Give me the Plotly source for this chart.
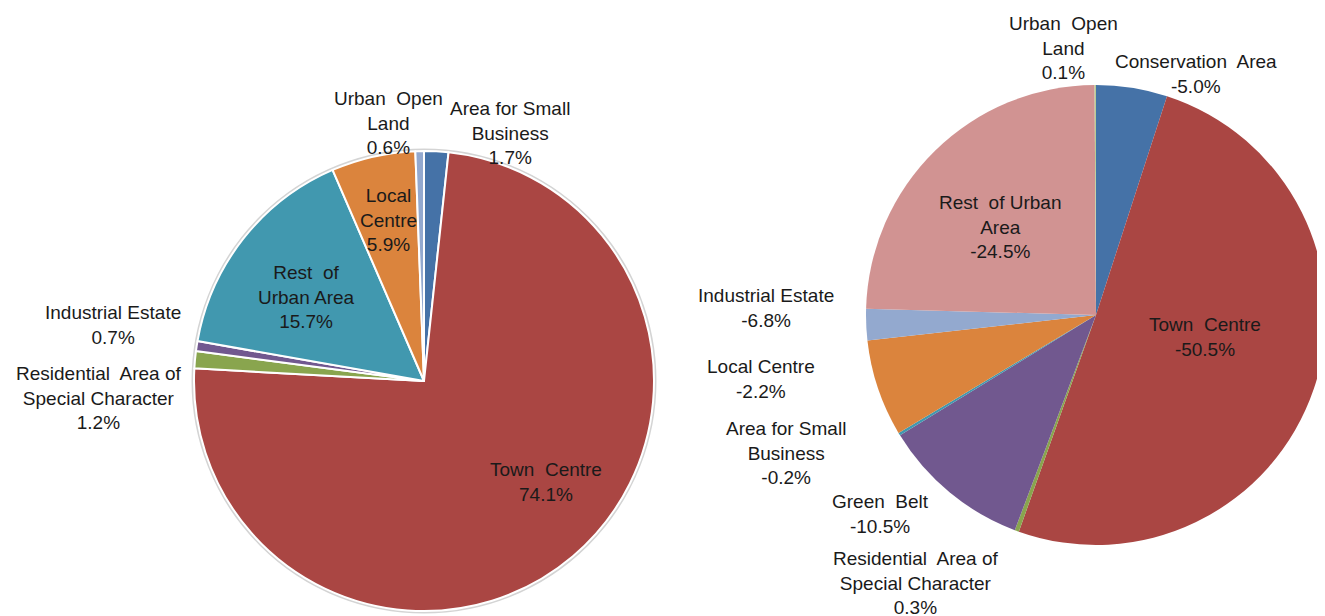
import plotly.graph_objects as go

# Left pie: share of total by policy area
left_categories = ["Area for Small Business", "Town Centre", "Residential Area of Special Character",
                   "Industrial Estate", "Rest of Urban Area", "Local Centre", "Urban Open Land"]
left_values = [1.7, 74.1, 1.2, 0.7, 15.7, 5.9, 0.6]
left_colors = ["#4572A7", "#AA4643", "#89A54E", "#71588F", "#4198AF", "#DB843D", "#93A9CF"]

# Right pie: change by policy area
right_categories = ["Conservation Area", "Town Centre", "Residential Area of Special Character",
                    "Green Belt", "Area for Small Business", "Industrial Estate", "Local Centre",
                    "Rest of Urban Area", "Urban Open Land"]
right_values = [-5.0, -50.5, 0.3, -10.5, -0.2, -6.8, -2.2, -24.5, 0.1]
right_colors = ["#4572A7", "#AA4643", "#89A54E", "#71588F", "#4198AF", "#DB843D", "#93A9CF",
                "#D19392", "#B9CD96"]

W, H = 1325, 616
OFF = 8  # page body margin, positions below are in screenshot pixels
FONT = "Liberation Sans, Arial, sans-serif"

# how each label wraps, and where it sits (pixel centre of the text block)
left_wrap = {
    "Area for Small Business": ("Area for Small<br>Business", 510, 133),
    "Town Centre": ("Town  Centre", 546, 482),
    "Residential Area of Special Character": ("Residential  Area of<br>Special Character", 98, 398),
    "Industrial Estate": ("Industrial Estate", 113, 325),
    "Rest of Urban Area": ("Rest  of<br>Urban Area", 306, 297),
    "Local Centre": ("Local<br>Centre", 388, 220),
    "Urban Open Land": ("Urban  Open<br>Land", 388, 123),
}
right_wrap = {
    "Conservation Area": ("Conservation  Area", 1196, 74),
    "Town Centre": ("Town  Centre", 1205, 337),
    "Residential Area of Special Character": ("Residential  Area of<br>Special Character", 915, 583),
    "Green Belt": ("Green  Belt", 880, 514),
    "Area for Small Business": ("Area for Small<br>Business", 786, 453),
    "Industrial Estate": ("Industrial Estate", 766, 308),
    "Local Centre": ("Local Centre", 761, 379),
    "Rest of Urban Area": ("Rest  of Urban<br>Area", 1000, 227),
    "Urban Open Land": ("Urban  Open<br>Land", 1063, 48),
}


def px(x, y):
    return (x - OFF) / W, 1 - (y - OFF) / H


def px_domain(cx, cy, r):
    x0, y1 = px(cx - r, cy - r)
    x1, y0 = px(cx + r, cy + r)
    return dict(x=[max(0, x0), min(1, x1)], y=[max(0, y0), min(1, y1)])


fig = go.Figure()

left_dom = px_domain(424, 381, 230)
right_dom = px_domain(1096, 315, 230)

# faint grey rim around the left pie
rx0, ry1 = px(424 - 231, 381 - 231)
rx1, ry0 = px(424 + 231, 381 + 231)
fig.add_shape(type="circle", xref="paper", yref="paper", layer="below",
              x0=rx0, x1=rx1, y0=ry0, y1=ry1,
              line=dict(color="#D4D4D4", width=3), fillcolor="white")

fig.add_trace(go.Pie(
    labels=left_categories, values=left_values, sort=False, direction="clockwise",
    rotation=0, domain=left_dom, textinfo="none", hoverinfo="label+text",
    text=[f"{v:.1f}%" for v in left_values],
    marker=dict(colors=left_colors, line=dict(color="white", width=2)),
    showlegend=False,
))

fig.add_trace(go.Pie(
    labels=right_categories, values=[abs(v) for v in right_values], sort=False,
    direction="clockwise", rotation=0, domain=right_dom, textinfo="none",
    hoverinfo="label+text", text=[f"{v:.1f}%" for v in right_values],
    marker=dict(colors=right_colors, line=dict(width=0)),
    showlegend=False,
))

annotations = []
for cats, vals, wrap in [(left_categories, left_values, left_wrap),
                         (right_categories, right_values, right_wrap)]:
    for c, v in zip(cats, vals):
        txt, x, y = wrap[c]
        ax, ay = px(x, y)
        annotations.append(dict(
            text=f"{txt}<br>{v:.1f}%", x=ax, y=ay, xref="paper", yref="paper",
            xanchor="center", yanchor="middle", showarrow=False, align="center",
            font=dict(family=FONT, size=19, color="#1A1A1A"),
        ))

fig.update_layout(
    width=W, height=H,
    margin=dict(l=0, r=0, t=0, b=0),
    paper_bgcolor="white", plot_bgcolor="white",
    annotations=annotations,
)

fig.write_html("out.html")
